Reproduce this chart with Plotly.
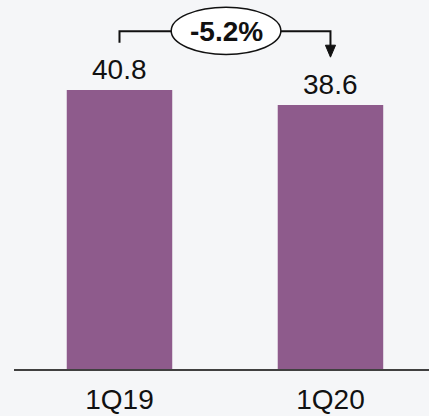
import plotly.graph_objects as go

categories = ["1Q19", "1Q20"]
values = [40.8, 38.6]
value_labels = ["40.8", "38.6"]
change_label = "-5.2%"

BAR_COLOR = "#8e5b8c"
BG = "#f5f6f8"
FONT = "Arial, Liberation Sans, sans-serif"

y_max = 53.96
fig = go.Figure()
fig.add_trace(go.Bar(x=categories, y=values, marker=dict(color=BAR_COLOR, line=dict(width=0)),
                     width=0.5, hoverinfo="skip"))

for c, v, t in zip(categories, values, value_labels):
    fig.add_annotation(x=c, y=v, text=t, showarrow=False, yanchor="bottom", yshift=3,
                       font=dict(family=FONT, size=28, color="#111111"))

# bracket
top = max(values)
y_line = top + 8.6
y_left = top + 6.9
y_tip = top + 4.8
fig.add_shape(type="path", path=f"M 0,{y_left} L 0,{y_line} L 0.245,{y_line}",
              line=dict(color="#111111", width=2))
fig.add_shape(type="path", path=f"M 0.765,{y_line} L 1,{y_line} L 1,{y_tip + 1.6}",
              line=dict(color="#111111", width=2))
hw = 0.024
fig.add_shape(type="path", path=f"M {1-hw},{y_tip+1.75} L {1+hw},{y_tip+1.75} L 1,{y_tip} Z",
              fillcolor="#111111", line=dict(color="#111111", width=1))
fig.add_shape(type="circle", x0=0.245, x1=0.765, y0=y_line - 3.4, y1=y_line + 3.5,
              line=dict(color="#111111", width=1.5), fillcolor="white")
fig.add_annotation(x=0.505, y=y_line, text=f"<b>{change_label}</b>", showarrow=False,
                   font=dict(family=FONT, size=28, color="#111111"))

fig.update_layout(
    width=429, height=416,
    margin=dict(l=14, r=0, t=0, b=47),
    paper_bgcolor=BG, plot_bgcolor=BG,
    showlegend=False,
    bargap=0.5,
)
fig.update_xaxes(range=[-0.5, 1.467], showline=True, linecolor="#404040", linewidth=2,
                 showgrid=False, zeroline=False, ticks="", ticklabelstandoff=4,
                 tickfont=dict(family=FONT, size=28, color="#111111"))
fig.update_yaxes(range=[0, y_max], visible=False, showgrid=False, zeroline=False)

fig.write_html("out.html", config={"displayModeBar": False})
